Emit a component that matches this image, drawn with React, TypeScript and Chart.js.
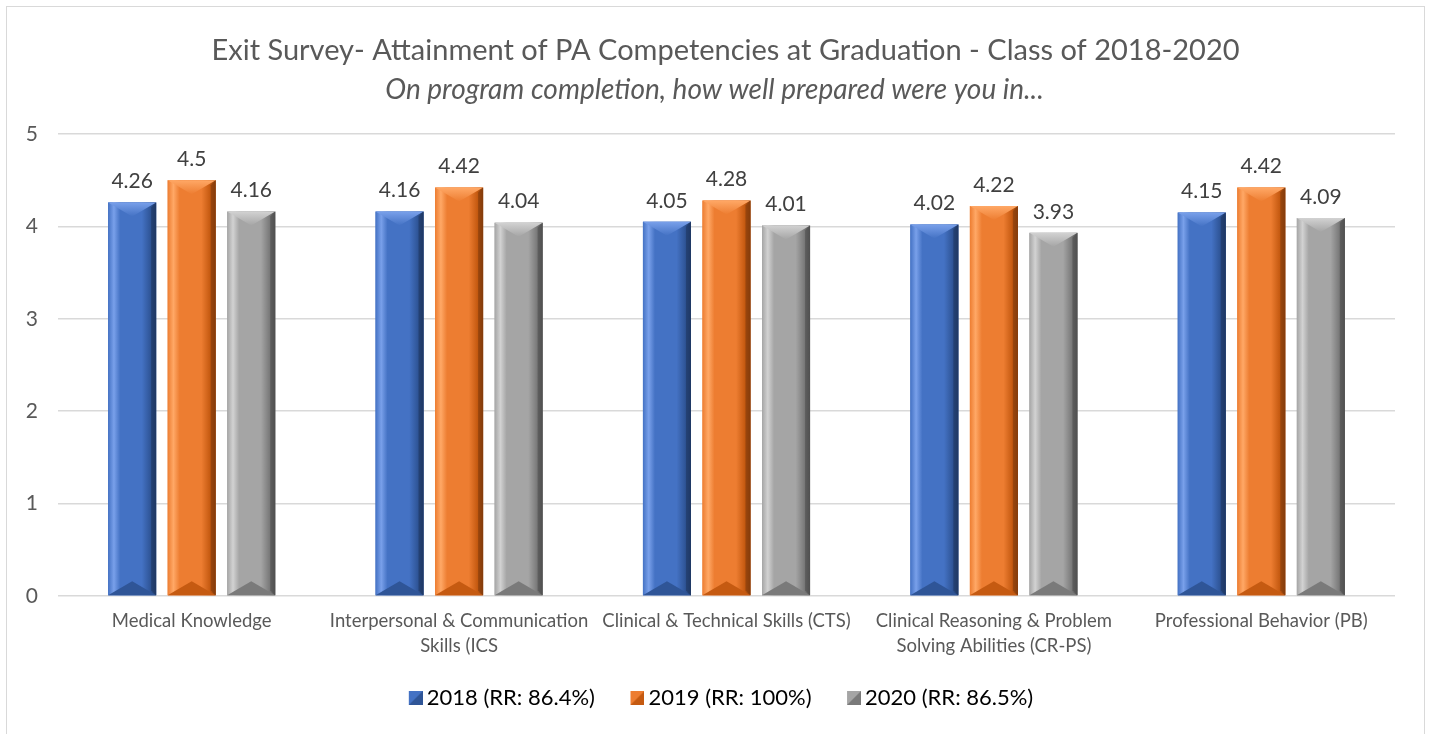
import React, { useEffect, useRef } from "react";
import { Chart, registerables } from "chart.js";

Chart.register(...registerables);

const categories: string[][] = [
  ["Medical Knowledge"],
  ["Interpersonal & Communication", "Skills (ICS"],
  ["Clinical & Technical Skills (CTS)"],
  ["Clinical Reasoning & Problem", "Solving Abilities (CR-PS)"],
  ["Professional Behavior (PB)"],
];
const seriesNames = ["2018 (RR: 86.4%)", "2019 (RR: 100%)", "2020 (RR: 86.5%)"];
const values2018 = [4.26, 4.16, 4.05, 4.02, 4.15];
const values2019 = [4.5, 4.42, 4.28, 4.22, 4.42];
const values2020 = [4.16, 4.04, 4.01, 3.93, 4.09];
const yMin = 0;
const yMax = 5;
const yStep = 1;

const titleText = "Exit Survey- Attainment of PA Competencies at Graduation - Class of 2018-2020";
const subtitleText = "On program completion, how well prepared were you in...";

const palettes = [
  { main: "#4472C4", light: "#79A0EA", mid: "#2F5597", dark: "#1F3864" },
  { main: "#ED7D31", light: "#FFA866", mid: "#C55A11", dark: "#843C0C" },
  { main: "#A5A5A5", light: "#D2D2D2", mid: "#7A7A7A", dark: "#505050" },
];

const FONT = "Lato, 'Open Sans', sans-serif";

function makeLegendIcon(p: { main: string; light: string; mid: string; dark: string }) {
  const W = 30;
  const c = document.createElement("canvas");
  c.width = W;
  c.height = 14;
  const g = c.getContext("2d")!;
  const o = W - 14;
  g.fillStyle = p.main;
  g.fillRect(o, 0, 14, 14);
  g.fillStyle = p.mid;
  g.beginPath();
  g.moveTo(o + 14, 0);
  g.lineTo(o + 14, 14);
  g.lineTo(o, 14);
  g.closePath();
  g.fill();
  return c;
}

const shiftPlugin = {
  id: "shiftBoxes",
  afterLayout(chart: any) {
    const shift = (b: any, d: number) => {
      if (!b) return;
      b.left += d;
      b.right += d;
    };
    shift(chart.titleBlock, 18);
    const sub = chart.boxes.find(
      (b: any) => b !== chart.titleBlock && b.options && b.options.text === subtitleText
    );
    shift(sub, 7);
    shift(chart.legend, 9);
  },
};

const bevelPlugin = {
  id: "bevelBars",
  afterDatasetsDraw(chart: any) {
    const ctx: CanvasRenderingContext2D = chart.ctx;
    chart.data.datasets.forEach((ds: any, di: number) => {
      const meta = chart.getDatasetMeta(di);
      const p = palettes[di];
      meta.data.forEach((bar: any) => {
        const { x, y, base, width } = bar.getProps(["x", "y", "base", "width"], true);
        const x0 = x - width / 2;
        const x1 = x + width / 2;
        const h = 14;
        ctx.save();
        const gf = ctx.createLinearGradient(x0, 0, x1, 0);
        gf.addColorStop(0, p.main);
        gf.addColorStop(0.12, p.light);
        gf.addColorStop(0.25, p.main);
        gf.addColorStop(0.7, p.main);
        gf.addColorStop(0.88, p.mid);
        gf.addColorStop(1, p.dark);
        ctx.fillStyle = gf;
        ctx.fillRect(x0, y, width, base - y);
        const gt = ctx.createLinearGradient(0, y, 0, y + h);
        gt.addColorStop(0, p.light);
        gt.addColorStop(1, p.main);
        ctx.fillStyle = gt;
        ctx.beginPath();
        ctx.moveTo(x0, y);
        ctx.lineTo(x1, y);
        ctx.lineTo(x, y + h);
        ctx.closePath();
        ctx.fill();
        ctx.fillStyle = p.mid;
        ctx.beginPath();
        ctx.moveTo(x0, base);
        ctx.lineTo(x1, base);
        ctx.lineTo(x, base - h);
        ctx.closePath();
        ctx.fill();
        ctx.fillStyle = p.dark;
        ctx.globalAlpha = 0.6;
        ctx.beginPath();
        ctx.moveTo(x1, y);
        ctx.lineTo(x1 - 5, y + 5);
        ctx.lineTo(x1 - 5, base - 5);
        ctx.lineTo(x1, base);
        ctx.closePath();
        ctx.fill();
        ctx.restore();
      });
    });
  },
};

const labelPlugin = {
  id: "valueLabels",
  afterDatasetsDraw(chart: any) {
    const ctx: CanvasRenderingContext2D = chart.ctx;
    ctx.save();
    ctx.font = `21px ${FONT}`;
    ctx.fillStyle = "#404040";
    ctx.textAlign = "center";
    ctx.textBaseline = "middle";
    chart.data.datasets.forEach((ds: any, di: number) => {
      const meta = chart.getDatasetMeta(di);
      meta.data.forEach((bar: any, i: number) => {
        ctx.fillText(String(ds.data[i]), bar.x, bar.y - 21);
      });
    });
    ctx.restore();
  },
};

export default function App() {
  const ref = useRef<HTMLCanvasElement>(null);
  useEffect(() => {
    const canvas = ref.current!;
    const icons = palettes.map(makeLegendIcon);
    const series = [values2018, values2019, values2020];
    const chart = new Chart(canvas, {
      type: "bar",
      data: {
        labels: categories,
        datasets: series.map((vals, i) => ({
          label: seriesNames[i],
          data: vals,
          backgroundColor: palettes[i].main,
          borderWidth: 0,
          categoryPercentage: 0.668,
          barPercentage: 0.807,
        })),
      },
      options: {
        animation: false,
        responsive: false,
        maintainAspectRatio: false,
        layout: { padding: { left: 20, right: 34, top: 0, bottom: 15 } },
        plugins: {
          tooltip: { enabled: false },
          title: {
            display: true,
            text: titleText,
            color: "#595959",
            font: { family: FONT, size: 29, weight: "normal", lineHeight: 1.2 },
            padding: { top: 33, bottom: 0 },
          },
          subtitle: {
            display: true,
            text: subtitleText,
            color: "#595959",
            font: { family: FONT, size: 28, style: "italic", weight: "normal", lineHeight: 1.2 },
            padding: { top: 5.4, bottom: 27.2 },
          },
          legend: {
            position: "bottom",
            labels: {
              usePointStyle: true,
              boxWidth: 16,
              boxHeight: 22,
              padding: 26.5,
              color: "#595959",
              font: { family: FONT, size: 22 },
              generateLabels: (ch: any) =>
                ch.data.datasets.map((ds: any, i: number) => ({
                  text: ds.label,
                  fillStyle: palettes[i].main,
                  strokeStyle: palettes[i].main,
                  lineWidth: 0,
                  pointStyle: icons[i],
                  datasetIndex: i,
                  hidden: false,
                })),
            },
          },
        },
        scales: {
          x: {
            grid: { display: false, drawTicks: false },
            border: { display: false },
            ticks: {
              color: "#595959",
              font: { family: FONT, size: 18.5, lineHeight: 25 / 18.5 },
              padding: 12.5,
              maxRotation: 0,
              autoSkip: false,
            },
            afterFit: (s: any) => {
              s.height = 64.5;
            },
          },
          y: {
            min: yMin,
            max: yMax,
            border: { display: false },
            grid: { color: "#d9d9d9", drawTicks: false, lineWidth: 1.5 },
            ticks: {
              stepSize: yStep,
              color: "#595959",
              font: { family: FONT, size: 21 },
              padding: 20,
            },
            afterFit: (s: any) => {
              s.width = 38;
            },
          },
        },
      },
      plugins: [shiftPlugin, bevelPlugin, labelPlugin],
    } as any);
    return () => chart.destroy();
  }, []);
  return (
    <>
      <div
        style={{
          position: "fixed",
          left: 6,
          top: 6,
          width: 1419,
          height: 760,
          border: "1px solid #d9d9d9",
          boxSizing: "border-box",
          background: "#fff",
        }}
      />
      <canvas
        ref={ref}
        width={1429}
        height={734}
        style={{ position: "fixed", left: 0, top: 0, width: 1429, height: 734 }}
      />
    </>
  );
}
